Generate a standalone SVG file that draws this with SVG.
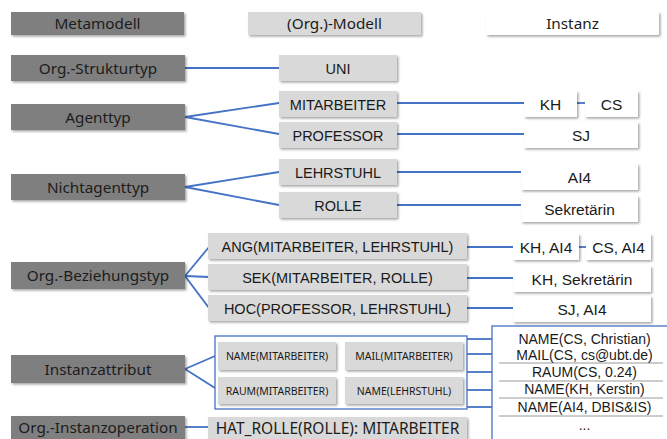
<svg xmlns="http://www.w3.org/2000/svg" width="667" height="439" viewBox="0 0 667 439">
  <style>
    .meta { fill: #7f7f7f; filter: url(#sh); }
    .model { fill: #d9d9d9; filter: url(#sh); }
    .inst { fill: #ffffff; filter: url(#sh); }
    .tm { font-family: "Noto Sans", "Liberation Sans", sans-serif; font-size: 15.3px; fill: #1c1c1c; text-anchor: middle; }
    .tb { font-family: "Liberation Sans", Arial, sans-serif; font-size: 14.5px; fill: #1a1a1a; text-anchor: middle; }
    .ti { font-family: "Liberation Sans", Arial, sans-serif; font-size: 15.5px; fill: #1a1a1a; text-anchor: middle; }
    .ts { font-family: "Noto Sans", "Liberation Sans", sans-serif; font-size: 10.5px; fill: #1a1a1a; text-anchor: middle; }
    .tl { font-family: "Liberation Sans", Arial, sans-serif; font-size: 14px; fill: #1a1a1a; text-anchor: middle; }
    .conn line { stroke: #4472c4; stroke-width: 1.8; }
    .frame { fill: #ffffff; stroke: #4472c4; stroke-width: 1.3; }
    .sep { stroke: #9a9a9a; stroke-width: 1; }
  </style>
  <defs>
    <filter id="sh" x="-5%" y="-20%" width="115%" height="160%">
      <feDropShadow dx="1.5" dy="1.6" stdDeviation="0.9" flood-color="#000" flood-opacity="0.35"/>
    </filter>
  </defs>

  <rect width="667" height="439" fill="#ffffff"/>

  <!-- column headers -->
  <g id="hdr-meta"><rect class="meta" x="11" y="12" width="173" height="23"/><text class="tm" x="97.5" y="29">Metamodell</text></g>
  <g id="hdr-model"><rect class="model" x="248" y="12" width="173" height="23"/><text class="tm" x="334.5" y="29">(Org.)-Modell</text></g>
  <g id="hdr-inst"><rect class="inst" x="486" y="12" width="173" height="23"/><text class="tm" x="572.5" y="29">Instanz</text></g>

  <!-- connectors -->
  <g id="connectors" class="conn">
    <line x1="185" y1="68" x2="279" y2="68"/>
    <line x1="185" y1="117" x2="279" y2="103"/>
    <line x1="185" y1="117" x2="279" y2="134"/>
    <line x1="185" y1="187" x2="279" y2="172"/>
    <line x1="185" y1="187" x2="279" y2="205"/>
    <line x1="397" y1="103" x2="524" y2="103"/>
    <line x1="577" y1="103" x2="585" y2="103"/>
    <line x1="397" y1="134" x2="524" y2="134"/>
    <line x1="397" y1="172" x2="521" y2="172"/>
    <line x1="397" y1="205" x2="521" y2="205"/>
    <line x1="185" y1="276" x2="209" y2="247"/>
    <line x1="185" y1="276" x2="209" y2="277"/>
    <line x1="185" y1="276" x2="209" y2="308"/>
    <line x1="467" y1="247" x2="513" y2="247"/>
    <line x1="579" y1="247" x2="586" y2="247"/>
    <line x1="467" y1="278" x2="513" y2="278"/>
    <line x1="467" y1="308" x2="513" y2="308"/>
    <line x1="185" y1="369" x2="215" y2="356"/>
    <line x1="185" y1="369" x2="215" y2="388"/>
    <line x1="467" y1="339" x2="492" y2="339"/>
    <line x1="467" y1="354" x2="492" y2="354"/>
    <line x1="467" y1="372" x2="492" y2="372"/>
    <line x1="467" y1="390" x2="492" y2="390"/>
    <line x1="467" y1="407" x2="492" y2="407"/>
    <line x1="185" y1="427" x2="208" y2="427"/>
  </g>

  <!-- metamodel types -->
  <g id="strukturtyp"><rect class="meta" x="11" y="55" width="174" height="26"/><text class="tm" x="98" y="74">Org.-Strukturtyp</text></g>
  <g id="agenttyp"><rect class="meta" x="11" y="104" width="174" height="26"/><text class="tm" x="98" y="123">Agenttyp</text></g>
  <g id="nichtagenttyp"><rect class="meta" x="11" y="174" width="174" height="26"/><text class="tm" x="98" y="193">Nichtagenttyp</text></g>
  <g id="beziehungstyp"><rect class="meta" x="11" y="262" width="174" height="27"/><text class="tm" x="98" y="281">Org.-Beziehungstyp</text></g>
  <g id="instanzattribut"><rect class="meta" x="11" y="355" width="174" height="28"/><text class="tm" x="98" y="375">Instanzattribut</text></g>
  <g id="instanzoperation"><rect class="meta" x="11" y="416" width="174" height="30"/><text class="tm" x="98" y="433">Org.-Instanzoperation</text></g>

  <!-- model elements -->
  <g id="uni"><rect class="model" x="279" y="55" width="118" height="26"/><text class="tb" x="338" y="73.5">UNI</text></g>
  <g id="mitarbeiter"><rect class="model" x="279" y="91" width="118" height="26"/><text class="tb" x="338" y="109.5">MITARBEITER</text></g>
  <g id="professor"><rect class="model" x="279" y="122" width="118" height="26"/><text class="tb" x="338" y="140.5">PROFESSOR</text></g>
  <g id="lehrstuhl"><rect class="model" x="279" y="159" width="118" height="26"/><text class="tb" x="338" y="177.5">LEHRSTUHL</text></g>
  <g id="rolle"><rect class="model" x="279" y="192" width="118" height="26"/><text class="tb" x="338" y="210.5">ROLLE</text></g>
  <g id="ang"><rect class="model" x="208" y="233" width="259" height="26"/><text class="tb" x="337.5" y="251.5">ANG(MITARBEITER, LEHRSTUHL)</text></g>
  <g id="sek"><rect class="model" x="208" y="264" width="259" height="26"/><text class="tb" x="337.5" y="282.5">SEK(MITARBEITER, ROLLE)</text></g>
  <g id="hoc"><rect class="model" x="208" y="295" width="259" height="26"/><text class="tb" x="337.5" y="313.5">HOC(PROFESSOR, LEHRSTUHL)</text></g>

  <g id="attribute">
    <rect class="frame" x="215" y="336" width="252" height="73"/>
    <rect class="model" x="218" y="342" width="118" height="28"/><text class="ts" x="277" y="360">NAME(MITARBEITER)</text>
    <rect class="model" x="345" y="342" width="118" height="28"/><text class="ts" x="404" y="360">MAIL(MITARBEITER)</text>
    <rect class="model" x="218" y="377" width="118" height="27"/><text class="ts" x="277" y="394.5">RAUM(MITARBEITER)</text>
    <rect class="model" x="345" y="377" width="118" height="27"/><text class="ts" x="404" y="394.5">NAME(LEHRSTUHL)</text>
  </g>
  <g id="hat-rolle"><rect class="model" x="208" y="417" width="259" height="30"/><text class="tm" x="337.5" y="433.5" style="font-size:15.5px">HAT_ROLLE(ROLLE): MITARBEITER</text></g>

  <!-- instances -->
  <g id="kh"><rect class="inst" x="524" y="91" width="53" height="26"/><text class="ti" x="550.5" y="109.5">KH</text></g>
  <g id="cs"><rect class="inst" x="585" y="91" width="53" height="26"/><text class="ti" x="611.5" y="109.5">CS</text></g>
  <g id="sj"><rect class="inst" x="524" y="122" width="114" height="26"/><text class="ti" x="581" y="140.5">SJ</text></g>
  <g id="ai4"><rect class="inst" x="521" y="164" width="117" height="26"/><text class="ti" x="579.5" y="182.5">AI4</text></g>
  <g id="sekretaerin"><rect class="inst" x="521" y="196" width="117" height="26"/><text class="ti" x="579.5" y="214.5">Sekretärin</text></g>
  <g id="kh-ai4"><rect class="inst" x="513" y="234" width="66" height="26"/><text class="ti" x="546" y="252.5">KH, AI4</text></g>
  <g id="cs-ai4"><rect class="inst" x="586" y="234" width="65" height="26"/><text class="ti" x="618.5" y="252.5">CS, AI4</text></g>
  <g id="kh-sek"><rect class="inst" x="513" y="266" width="138" height="26"/><text class="ti" x="582" y="284.5">KH, Sekretärin</text></g>
  <g id="sj-ai4"><rect class="inst" x="513" y="296" width="138" height="26"/><text class="ti" x="582" y="314.5">SJ, AI4</text></g>

  <g id="attributwerte">
    <rect class="frame" x="492" y="326" width="190" height="120"/>
    <line class="sep" x1="499" y1="363" x2="663" y2="363"/>
    <line class="sep" x1="499" y1="381" x2="663" y2="381"/>
    <line class="sep" x1="499" y1="398" x2="663" y2="398"/>
    <line class="sep" x1="499" y1="416" x2="663" y2="416"/>
    <text class="tl" x="584.5" y="344">NAME(CS, Christian)</text>
    <text class="tl" x="584.5" y="360">MAIL(CS, cs@ubt.de)</text>
    <text class="tl" x="584.5" y="377">RAUM(CS, 0.24)</text>
    <text class="tl" x="584.5" y="394">NAME(KH, Kerstin)</text>
    <text class="tl" x="584.5" y="412">NAME(AI4, DBIS&amp;IS)</text>
    <text class="tl" x="584.5" y="430">...</text>
  </g>
</svg>
